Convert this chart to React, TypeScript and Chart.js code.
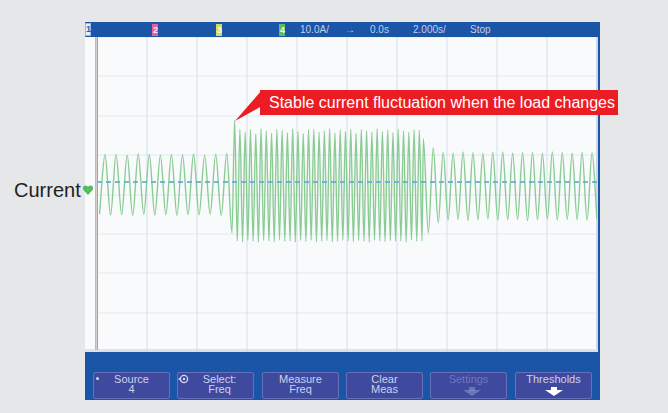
import React, { useEffect, useRef } from "react";
import { Chart, registerables } from "chart.js";

Chart.register(...registerables);

// ---- Scope settings ----
const timeMin = -10; // s  (2.000 s/div, 10 div, trigger at 0.0 s)
const timeMax = 10;
const timeStep = 2;
const currentMin = -43.2; // A (10.0 A/div, channel 4 ground offset)
const currentMax = 36.8;
const divMin = -4; // vertical graticule divisions
const divMax = 4;

// ---- Waveform extrema (A) ----
// Segment 1: light load, before the change
const seg1Start = -9.9;
const seg1End = -4.81;
const seg1Troughs = [-8.2, -8.4, -8.3, -8.5, -8.2, -8.4, -8.3, -8.5, -8.3, -8.4, -8.2, -8.5];
const seg1Peaks = [6.9, 7.0, 6.8, 7.1, 6.9, 6.8, 7.0, 6.9, 7.1, 6.8, 7.0, 7.2];

// Segment 2: heavy load
const seg2Start = -4.6;
const seg2End = 3.0;
const seg2Troughs = [
  -13.0, -15.0, -15.2, -14.8, -15.1, -15.3, -14.9, -15.0, -15.2, -14.7,
  -15.1, -15.0, -15.3, -14.9, -15.1, -14.8, -15.2, -15.0, -14.9, -15.3,
  -15.1, -14.8, -15.0, -15.2, -14.9, -15.1, -15.3, -14.8, -15.0, -15.2,
  -14.9, -15.1, -15.0, -15.3, -14.8, -15.1, -15.0,
];
const seg2Peaks = [
  15.6, 13.4, 12.6, 13.3, 12.2, 13.5, 12.9, 12.4, 13.4, 13.1,
  12.5, 13.5, 12.8, 12.3, 13.3, 13.4, 12.6, 13.0, 13.5, 12.4,
  13.2, 12.8, 13.4, 12.3, 13.3, 13.0, 12.6, 13.5, 12.8, 13.2,
  12.5, 13.4, 13.0, 12.6, 13.3, 13.1,
];

// Segment 3: after the load change
const seg3Start = 3.054;
const seg3End = 10.0;
const seg3Peaks = [11.0, 8.6, 7.5, 7.3, 7.6, 7.4, 7.2, 7.5, 7.6, 7.3, 7.4, 7.5, 7.2, 7.6, 7.4, 7.3, 7.5, 7.4];
const seg3Troughs = [-13.0, -10.4, -9.7, -9.5, -9.8, -9.6, -9.4, -9.7, -9.6, -9.5, -9.8, -9.6, -9.4, -9.7, -9.5, -9.6, -9.7, -9.5];

// ---- Texts ----
const annotationText = "Stable current fluctuation when the load changes";
const channelLabel = "Current";
const statusItems = ["10.0A/", "→", "0.0s", "2.000s/", "Stop"];
const softkeyTop = ["Source", "Select:", "Measure", "Clear", "Settings", "Thresholds"];
const softkeyBottom = ["4", "Freq", "Freq", "Meas", "", ""];

function interleave(first: number[], second: number[]): number[] {
  const out: number[] = [];
  const n = Math.max(first.length, second.length);
  for (let i = 0; i < n; i++) {
    if (i < first.length) out.push(first[i]);
    if (i < second.length) out.push(second[i]);
  }
  return out;
}

function place(values: number[], t0: number, t1: number) {
  const step = (t1 - t0) / (values.length - 1);
  return values.map((v, i) => ({ x: t0 + i * step, y: v }));
}

const tracePoints = [
  ...place(interleave(seg1Troughs, seg1Peaks), seg1Start, seg1End),
  ...place(interleave(seg2Troughs, seg2Peaks), seg2Start, seg2End),
  ...place(interleave(seg3Peaks, seg3Troughs), seg3Start, seg3End),
];

const FONT = '"Liberation Sans", Arial, Helvetica, sans-serif';

function abs(left: number, top: number, width?: number, height?: number): React.CSSProperties {
  const s: React.CSSProperties = { position: "absolute", left, top };
  if (width !== undefined) s.width = width;
  if (height !== undefined) s.height = height;
  return s;
}

export default function App() {
  const canvasRef = useRef<HTMLCanvasElement | null>(null);

  useEffect(() => {
    const canvas = canvasRef.current;
    if (!canvas) return;
    const gridColor = "rgba(190,212,230,0.32)";
    const chart = new Chart(canvas, {
      type: "line",
      data: {
        datasets: [
          {
            label: "ground",
            data: [
              { x: timeMin, y: 0 },
              { x: timeMax, y: 0 },
            ],
            borderColor: "rgba(90,172,218,0.85)",
            borderWidth: 2,
            borderDash: [5, 4],
            pointRadius: 0,
            yAxisID: "y",
          },
          {
            label: "Current",
            data: tracePoints,
            borderColor: "rgba(110,192,122,0.8)",
            borderWidth: 1.4,
            pointRadius: 0,
            cubicInterpolationMode: "monotone",
            yAxisID: "y",
          },
        ],
      },
      options: {
        responsive: false,
        maintainAspectRatio: false,
        animation: false,
        devicePixelRatio: 1,
        layout: { padding: 0 },
        plugins: { legend: { display: false }, tooltip: { enabled: false } },
        scales: {
          x: {
            type: "linear",
            min: timeMin,
            max: timeMax,
            ticks: { display: false, stepSize: timeStep },
            grid: { color: gridColor, drawTicks: false, lineWidth: 2 },
            border: { display: false },
          },
          y: {
            type: "linear",
            display: false,
            min: currentMin,
            max: currentMax,
          },
          yGrid: {
            type: "linear",
            position: "left",
            min: divMin,
            max: divMax,
            ticks: { display: false, stepSize: 1 },
            grid: { color: "rgba(190,212,230,0.2)", drawTicks: false, lineWidth: 2 },
            border: { display: false },
          },
        },
      },
    });
    return () => chart.destroy();
  }, []);

  const softkeyLefts = [93, 177, 262, 346, 430, 515];

  return (
    <div
      style={{
        position: "fixed",
        left: 0,
        top: 0,
        width: 668,
        height: 413,
        background: "#e6e7e9",
        overflow: "hidden",
        fontFamily: FONT,
      }}
    >
      {/* scope frame */}
      <div style={{ ...abs(85, 22, 515, 378), background: "#1a55a7" }} />

      {/* status bar */}
      <div style={{ ...abs(85, 23, 6, 13), background: "#e9eef8", border: "1px solid #9fb6e0", boxSizing: "border-box" }} />
      <div style={{ ...abs(86, 24, 5, 11), color: "#2b5cb0", fontSize: 9, lineHeight: "11px", fontWeight: 700 }}>1</div>
      <div style={{ ...abs(152, 24, 6, 12), background: "#e2609c" }} />
      <div style={{ ...abs(153, 25, 5, 10), color: "#fde6f0", fontSize: 9, lineHeight: "10px", fontWeight: 700 }}>2</div>
      <div style={{ ...abs(216, 24, 6, 12), background: "#cfdc63" }} />
      <div style={{ ...abs(217, 25, 5, 10), color: "#fbfde8", fontSize: 9, lineHeight: "10px", fontWeight: 700 }}>3</div>
      <div style={{ ...abs(279, 24, 6, 12), background: "#5dbb62" }} />
      <div style={{ ...abs(280, 25, 5, 10), color: "#eefbe9", fontSize: 9, lineHeight: "10px", fontWeight: 700 }}>4</div>
      {statusItems.map((s, i) => {
        const lefts = [300, 345, 370, 413, 470];
        return (
          <div
            key={s}
            style={{
              ...abs(lefts[i], 24.5),
              color: "#c3d0ea",
              fontSize: 10,
              lineHeight: "10px",
              whiteSpace: "nowrap",
            }}
          >
            {s}
          </div>
        );
      })}

      {/* graticule area */}
      <div style={{ ...abs(85, 37, 511, 315), background: "#f9fafb" }} />
      <div style={{ ...abs(596, 37, 2, 315), background: "#d2d8e6" }} />
      <div style={{ ...abs(85, 349, 513, 3), background: "#e0e3e8" }} />

      <canvas
        ref={canvasRef}
        width={500}
        height={315}
        style={{ ...abs(97, 37, 500, 315), display: "block" }}
      />

      {/* left marker line */}
      <div
        style={{
          ...abs(95, 37, 1, 313),
          background: "#d6d0cc",
          borderLeft: "1px solid #c2bab4",
          borderRight: "1px solid #a9a19b",
        }}
      />

      {/* channel label and ground marker */}
      <div style={{ ...abs(14, 180), fontSize: 20, lineHeight: "20px", color: "#222", whiteSpace: "nowrap" }}>
        {channelLabel}
      </div>
      <svg style={abs(82, 184, 12, 12)} width={12} height={12} viewBox="0 0 12 12">
        <circle cx={3.5} cy={4} r={2.6} fill="#58b85e" />
        <circle cx={8.5} cy={4} r={2.6} fill="#58b85e" />
        <polygon points="1.5,6 10.5,6 6,11" fill="#58b85e" />
      </svg>

      {/* annotation */}
      <svg style={abs(230, 88, 35, 36)} width={35} height={36} viewBox="230 88 35 36">
        <polygon points="262,90 262,106 235,121" fill="#ec1c24" />
      </svg>
      <div
        style={{
          ...abs(260, 90, 358, 25),
          background: "#ec1c24",
          color: "#ffffff",
          fontSize: 16,
          lineHeight: "25px",
          paddingLeft: 9,
          boxSizing: "border-box",
          whiteSpace: "nowrap",
        }}
      >
        {annotationText}
      </div>

      {/* softkeys */}
      {softkeyLefts.map((left, i) => {
        const disabled = i === 4;
        const color = disabled ? "rgba(150,160,215,0.55)" : "#cdd2ec";
        return (
          <div
            key={i}
            style={{
              ...abs(left, 372, 77, 27),
              background: "#3f4a9f",
              border: "1px solid #6671bb",
              borderRadius: 2,
              boxSizing: "border-box",
              color,
              fontSize: 11,
              lineHeight: "10px",
              textAlign: "center",
              paddingTop: 1,
              paddingLeft: i === 1 ? 8 : 0,
            }}
          >
            <div>{softkeyTop[i]}</div>
            <div>{softkeyBottom[i]}</div>
          </div>
        );
      })}
      {/* softkey icons */}
      <div style={{ ...abs(96, 377, 3, 3), background: "#d3d7ef", borderRadius: 2 }} />
      <svg style={abs(178, 374, 12, 10)} width={12} height={10} viewBox="0 0 12 10">
        <circle cx={6} cy={5} r={3.6} fill="none" stroke="#d3d7ef" strokeWidth={1.3} />
        <circle cx={6} cy={5} r={1.2} fill="#d3d7ef" />
        <polygon points="0,5 3,3 3,7" fill="#d3d7ef" />
      </svg>
      <svg style={abs(462, 387, 20, 9)} width={20} height={9} viewBox="0 0 20 9">
        <rect x={7} y={0} width={6} height={4} fill="rgba(150,160,215,0.5)" />
        <polygon points="1,3 19,3 10,9" fill="rgba(150,160,215,0.5)" />
      </svg>
      <svg style={abs(544, 387, 20, 9)} width={20} height={9} viewBox="0 0 20 9">
        <rect x={7} y={0} width={6} height={4} fill="#ffffff" />
        <polygon points="1,3 19,3 10,9" fill="#ffffff" />
      </svg>
    </div>
  );
}
